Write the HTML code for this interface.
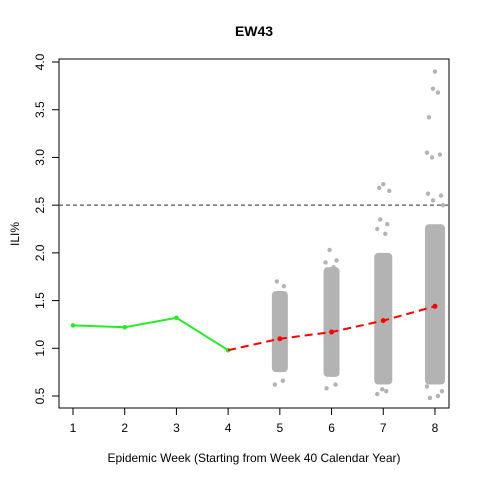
<!DOCTYPE html>
<html><head><meta charset="utf-8"><style>
body{margin:0;background:#fff}
svg text{font-family:"Liberation Sans",Arial,sans-serif;fill:#000}
</style></head><body>
<svg id="c" width="480" height="480" viewBox="0 0 480 480">
<text x="254" y="36" font-size="14" font-weight="bold" text-anchor="middle">EW43</text>
<rect x="59" y="59" width="390" height="349" fill="none" stroke="#000"/>
<text x="254" y="462" font-size="12" text-anchor="middle">Epidemic Week (Starting from Week 40 Calendar Year)</text>
<text transform="translate(19,234) rotate(-90)" font-size="12" text-anchor="middle">ILI%</text>
<g id="g"></g>
</svg>
<script>
const xTicks=[1,2,3,4,5,6,7,8];
const yTicks=[0.5,1.0,1.5,2.0,2.5,3.0,3.5,4.0];
const obsWeeks=[1,2,3,4];
const obsVals=[1.24,1.22,1.32,0.98];
const fcWeeks=[4,5,6,7,8];
const fcVals=[0.98,1.10,1.17,1.29,1.44];
const threshold=2.5;
const cloudWeeks=[5,6,7,8];
const cloudLow=[0.75,0.7,0.62,0.62];
const cloudHigh=[1.6,1.85,2.0,2.3];
const outWeeks=[5,5,5,5,6,6,6,6,6,6,7,7,7,7,7,7,7,7,7,7,8,8,8,8,8,8,8,8,8,8,8,8,8,8,8];
const outVals=[1.7,1.65,0.62,0.66,2.03,1.92,1.9,1.85,0.58,0.62,2.72,2.68,2.65,2.35,2.3,2.25,2.2,0.52,0.55,0.57,3.9,3.72,3.68,3.42,3.05,3.03,3.0,2.62,2.6,2.55,2.5,0.48,0.5,0.55,0.6];
const outJit=[-3,4,-5,3,-2,5,-6,2,-5,4,0,-4,6,-3,4,-6,2,-6,3,-1,0,-2,3,-6,-8,5,-3,-7,6,-2,8,-5,3,7,-8];
const X=v=>73+(v-1)*51.71;
const Y=v=>396-(v-0.5)*95.43;
const NS="http://www.w3.org/2000/svg";
const g=document.getElementById('g');
function mk(t,a){const e=document.createElementNS(NS,t);for(const k in a)e.setAttribute(k,a[k]);g.appendChild(e);return e;}
xTicks.forEach(v=>{
 const l=mk('line',{x1:X(v),x2:X(v),y1:408,y2:415,stroke:'#000'});
 
 
 const t=mk('text',{x:X(v),y:432,'font-size':12,'text-anchor':'middle'});t.textContent=v;
 
 
});
yTicks.forEach(v=>{
 const l=mk('line',{x1:52,x2:59,y1:Y(v),y2:Y(v),stroke:'#000'});
 
 
 const t=mk('text',{transform:`translate(44,${Y(v)}) rotate(-90)`,'font-size':12,'text-anchor':'middle'});t.textContent=v.toFixed(1);
 
 
});
const th=mk('line',{x1:59,x2:449,y1:Y(threshold),y2:Y(threshold),stroke:'#555','stroke-width':1.3,'stroke-dasharray':'4,3'});


cloudWeeks.forEach((w,i)=>{
 const hw=w===8?10:(w===7?9:8);
 const r=mk('rect',{x:X(w)-hw,y:Y(cloudHigh[i]),width:hw*2,height:Y(cloudLow[i])-Y(cloudHigh[i]),rx:4,fill:'#b3b3b3'});
 
 
});
outWeeks.forEach((w,i)=>{
 const c=mk('circle',{cx:X(w)+outJit[i],cy:Y(outVals[i]),r:2.2,fill:'#b3b3b3'});
 
 
});
const op=mk('polyline',{points:obsWeeks.map((w,i)=>X(w)+','+Y(obsVals[i])).join(' '),fill:'none',stroke:'#22ee22','stroke-width':2});


obsWeeks.forEach((w,i)=>{
 const c=mk('circle',{cx:X(w),cy:Y(obsVals[i]),r:2.3,fill:'#22ee22'});
 
 
});
const fp=mk('polyline',{points:fcWeeks.map((w,i)=>X(w)+','+Y(fcVals[i])).join(' '),fill:'none',stroke:'#ff0000','stroke-width':2,'stroke-dasharray':'8,5'});


fcWeeks.forEach((w,i)=>{if(i===0)return;
 const c=mk('circle',{cx:X(w),cy:Y(fcVals[i]),r:2.5,fill:'#ff0000'});
 
 
});
</script>
</body></html>
